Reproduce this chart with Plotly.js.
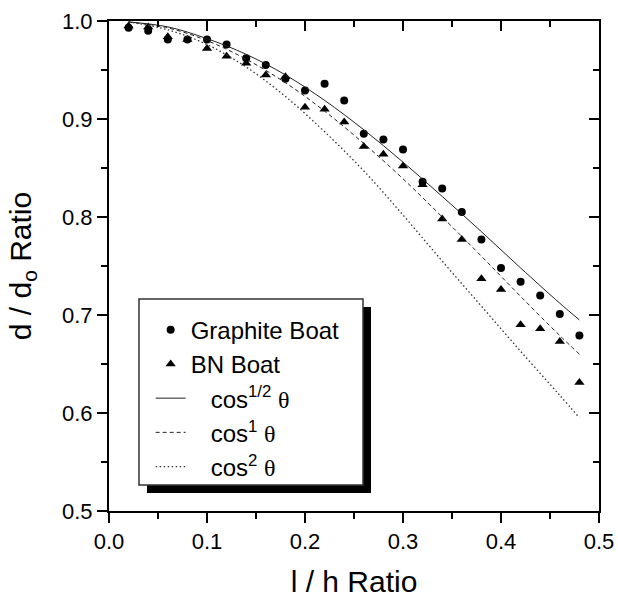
<!DOCTYPE html>
<html>
<head>
<meta charset="utf-8">
<script src="https://cdn.plot.ly/plotly-3.0.1.min.js"></script>
<style>html,body{margin:0;padding:0;background:#fff;}#chart{width:618px;height:604px;}</style>
</head>
<body>
<div id="chart"></div>
<script>
// measured data (l/h ratio vs d/do ratio)
var xData = [0.02,0.04,0.06,0.08,0.10,0.12,0.14,0.16,0.18,0.20,0.22,0.24,0.26,0.28,0.30,0.32,0.34,0.36,0.38,0.40,0.42,0.44,0.46,0.48];
var graphite = [0.993,0.990,0.981,0.981,0.981,0.976,0.962,0.955,0.941,0.929,0.936,0.919,0.885,0.879,0.869,0.836,0.829,0.805,0.777,0.748,0.734,0.720,0.701,0.679];
var bnBoat = [0.995,0.994,0.984,0.981,0.972,0.964,0.957,0.945,0.943,0.912,0.910,0.897,0.872,0.864,0.852,0.833,0.798,0.777,0.737,0.726,0.690,0.686,0.673,0.631];

// model curves, values
var xCurve = [0.02,0.06,0.10,0.14,0.18,0.22,0.26,0.30,0.34,0.38,0.42,0.46,0.48];
var cosHalf = [0.999,0.994,0.982,0.966,0.945,0.919,0.889,0.856,0.821,0.785,0.748,0.712,0.695];
var cosOne = [0.999,0.993,0.980,0.961,0.937,0.908,0.875,0.839,0.800,0.760,0.719,0.679,0.660];
var cosTwo = [0.999,0.991,0.976,0.953,0.923,0.887,0.847,0.802,0.755,0.709,0.663,0.618,0.595];

var seriesNames = ['Graphite Boat','BN Boat',
  '\u00a0\u00a0\u00a0cos<sup>1/2</sup> <span style="font-family:\'Liberation Serif\',serif">θ</span>',
  '\u00a0\u00a0\u00a0cos<sup>1</sup> <span style="font-family:\'Liberation Serif\',serif">θ</span>',
  '\u00a0\u00a0\u00a0cos<sup>2</sup> <span style="font-family:\'Liberation Serif\',serif">θ</span>'];
var xTickVals = [0,0.1,0.2,0.3,0.4,0.5];
var yTickVals = [0.5,0.6,0.7,0.8,0.9,1.0];

var lineColor = '#222';
var traces = [
  {x:xData, y:graphite, mode:'markers', name:seriesNames[0], marker:{symbol:'circle', size:8, color:'#000'}},
  {x:xData, y:bnBoat, mode:'markers', name:seriesNames[1], marker:{symbol:'triangle-up', size:9, color:'#000'}},
  {x:xCurve, y:cosHalf, mode:'lines', name:seriesNames[2], line:{color:lineColor, width:1, shape:'spline'}},
  {x:xCurve, y:cosOne, mode:'lines', name:seriesNames[3], line:{color:lineColor, width:1, dash:'4px,3px', shape:'spline'}},
  {x:xCurve, y:cosTwo, mode:'lines', name:seriesNames[4], line:{color:'#333', width:1.3, dash:'1.5px,2.5px', shape:'spline'}},
  {x:[], y:[], xaxis:'x2', yaxis:'y2', showlegend:false, hoverinfo:'skip', mode:'markers'}
];

var font = 'Liberation Sans, Arial, sans-serif';
var baseAxis = {
  showgrid:false, zeroline:false, showline:true, linecolor:'#000', linewidth:2,
  ticks:'outside', ticklen:10, tickwidth:2, tickcolor:'#000',
  tickfont:{family:font, size:22, color:'#000'}, tickformat:'.1f',
  minor:{dtick:0.05, ticks:'outside', ticklen:6, tickwidth:2, tickcolor:'#000'}
};

var layout = {
  width:618, height:604,
  margin:{l:109, r:19, t:21, b:93},
  paper_bgcolor:'#fff', plot_bgcolor:'#fff',
  font:{family:font, color:'#000'},
  showlegend:true,
  xaxis: Object.assign({}, baseAxis, {range:[0,0.5], tickmode:'array', tickvals:xTickVals,
    title:{text:'l / h Ratio', font:{family:font, size:30, color:'#000'}, standoff:18}}),
  yaxis: Object.assign({}, baseAxis, {range:[0.5,1.0], tickmode:'array', tickvals:yTickVals,
    title:{text:'d / d<sub>o</sub> Ratio', font:{family:font, size:30, color:'#000'}, standoff:22}}),
  xaxis2: Object.assign({}, baseAxis, {range:[0,0.5], overlaying:'x', side:'top', anchor:'y2',
    ticks:'inside', showticklabels:false, tickmode:'array', tickvals:xTickVals,
    minor:{dtick:0.05, ticks:'inside', ticklen:6, tickwidth:2, tickcolor:'#000'}}),
  yaxis2: Object.assign({}, baseAxis, {range:[0.5,1.0], overlaying:'y', side:'right', anchor:'x2',
    ticks:'inside', showticklabels:false, tickmode:'array', tickvals:yTickVals,
    minor:{dtick:0.05, ticks:'inside', ticklen:6, tickwidth:2, tickcolor:'#000'}}),
  legend:{x:0.085, y:0.415, xanchor:'left', yanchor:'top', bgcolor:'rgba(0,0,0,0)', borderwidth:0,
    font:{family:font, size:24, color:'#000'}, tracegroupgap:0},
  shapes:[
    {type:'rect', xref:'paper', yref:'paper', x0:0.0776, x1:0.5347, y0:0.0367, y1:0.4163,
      fillcolor:'#000', line:{width:0}, layer:'below'},
    {type:'rect', xref:'paper', yref:'paper', x0:0.0612, x1:0.5184, y0:0.0531, y1:0.4327,
      fillcolor:'#fff', line:{color:'#333', width:1.5}, layer:'below'}
  ]
};

Plotly.newPlot('chart', traces, layout, {displayModeBar:false, staticPlot:true});
</script>
</body>
</html>
